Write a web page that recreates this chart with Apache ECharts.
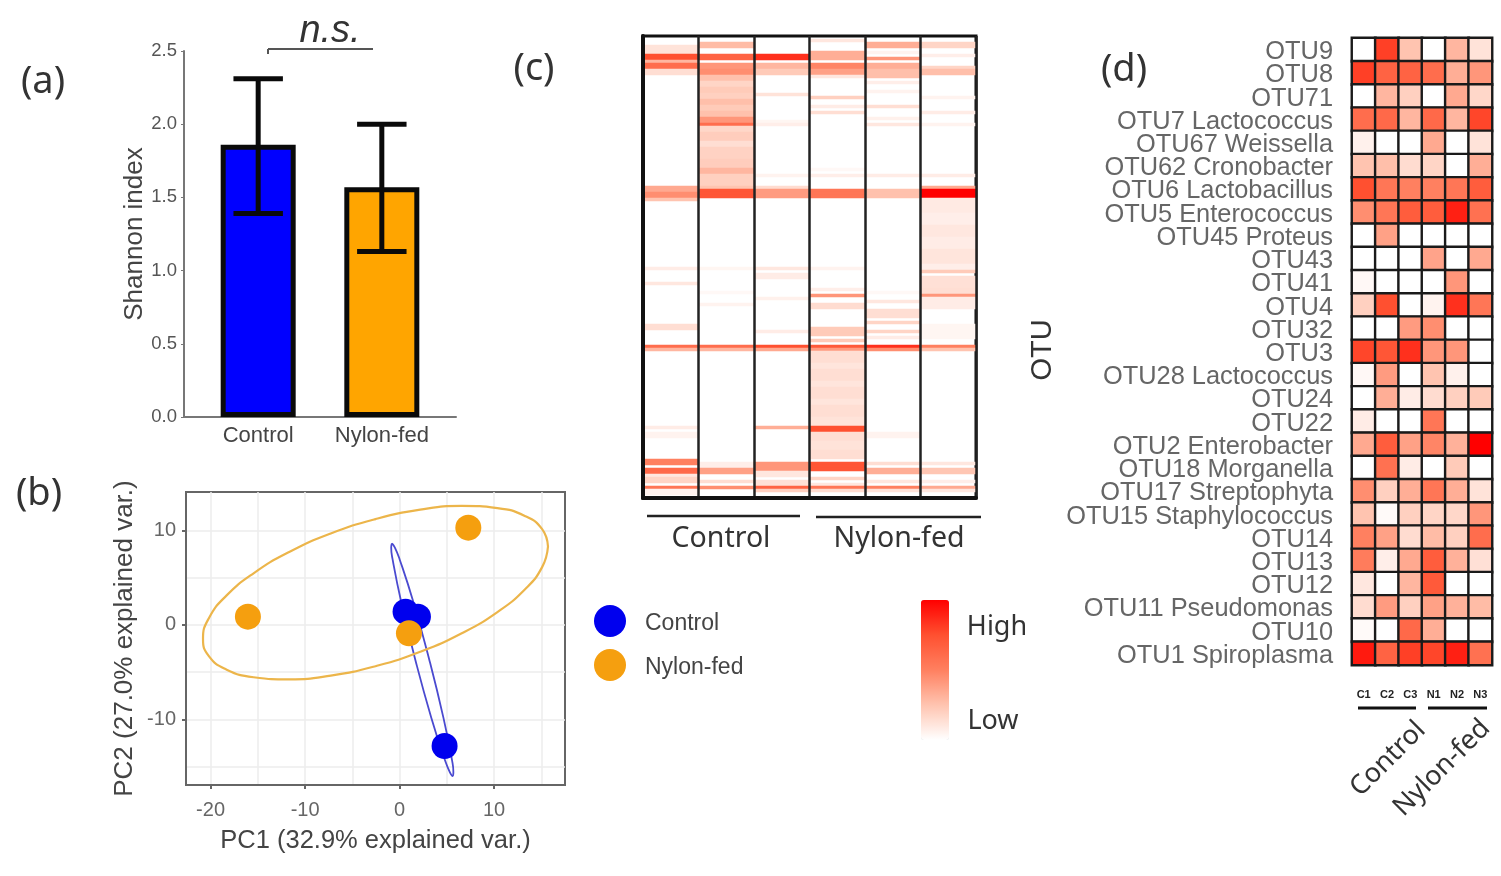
<!DOCTYPE html>
<html><head><meta charset="utf-8">
<style>html,body{margin:0;padding:0;background:#fff}#chart{width:1501px;height:876px;filter:blur(0.7px)}</style>
<script src="https://cdn.jsdelivr.net/npm/echarts@6/dist/echarts.min.js"></script>
</head><body><div id="chart"></div>
<script>
// ---- (a) Shannon index
const groups = ['Control', 'Nylon-fed'];
const shannonMean = [1.86, 1.57];
const shannonLow = [1.39, 1.13];
const shannonHigh = [2.31, 2.0];
const barColors = ['#0000ff', '#ffa500'];
// ---- (b) PCA
const pcaControl = [[0.63, 1.41], [1.94, 0.88], [4.76, -12.8]];
const pcaNylon = [[7.27, 10.3], [-16.05, 0.88], [0.99, -0.88]];
const ellipseNylon = [[15.7,8.3],[15.08,10.14],[13.25,11.54],[10.35,12.37],[6.58,12.6],[2.18,12.2],[-2.55,11.2],[-7.28,9.68],[-11.68,7.72],[-15.45,5.47],[-18.35,3.08],[-20.18,0.72],[-20.8,-1.46],[-20.18,-3.3],[-18.35,-4.7],[-15.45,-5.53],[-11.68,-5.76],[-7.28,-5.36],[-2.55,-4.36],[2.18,-2.84],[6.58,-0.88],[10.35,1.37],[13.25,3.76],[15.08,6.12],[15.7,8.3]];
const ellipseControl = [[-0.81,8.64],[-0.51,8.22],[-0.01,6.99],[1.44,2.49],[3.14,-3.67],[4.64,-9.83],[5.55,-14.33],[5.69,-15.56],[5.61,-15.98],[5.31,-15.56],[4.81,-14.33],[3.36,-9.83],[1.66,-3.67],[0.16,2.49],[-0.75,6.99],[-0.89,8.22],[-0.81,8.64]];
const pcaMajorX = [-20, -10, 0, 10];
const pcaMinorX = [-20, -15, -10, -5, 0, 5, 10, 15];
const pcaMajorY = [-10, 0, 10];
const pcaMinorY = [-15, -10, -5, 0, 5, 10];
// ---- (c) heatmap: per sample, runs of [firstRow, lastRow, relative abundance]
const samples = ['C1', 'C2', 'C3', 'N1', 'N2', 'N3'];
const stripeRowCount = 154;
const stripesC1 = [[3,5,.12],[6,7,.75],[8,8,.3],[9,10,.6],[11,12,.14],[50,51,.35],[52,53,.45],[54,54,.25],[77,77,.08],[82,82,.1],[96,97,.14],[103,103,.6],[104,104,.3],[130,130,.08],[132,133,.05],[141,142,.5],[144,145,.62],[146,146,.1],[147,148,.18],[150,150,.55],[151,152,.05]];
const stripesC2 = [[2,3,.28],[6,7,.65],[9,10,.42],[11,12,.45],[13,14,.26],[15,16,.18],[17,18,.22],[19,20,.2],[21,22,.27],[23,24,.22],[25,26,.26],[27,28,.42],[29,29,.6],[30,31,.17],[32,34,.21],[35,36,.14],[37,40,.19],[41,43,.21],[44,45,.3],[46,49,.2],[50,50,.25],[51,53,.72],[77,77,.04],[85,85,.03],[89,89,.05],[103,103,.6],[104,104,.3],[142,143,.07],[144,145,.38],[148,148,.14],[150,150,.45]];
const stripesC3 = [[6,7,.85],[9,10,.3],[11,12,.22],[19,19,.12],[28,28,.04],[29,29,.07],[46,46,.05],[50,50,.15],[51,53,.4],[77,77,.1],[79,79,.08],[80,80,.08],[87,87,.06],[98,98,.08],[103,103,.75],[104,104,.35],[130,130,.33],[142,144,.42],[145,146,.1],[148,149,.13],[150,150,.65],[151,151,.2]];
const stripesN1 = [[1,1,.1],[5,7,.33],[9,10,.48],[11,12,.38],[13,13,.1],[20,20,.2],[23,23,.08],[25,25,.14],[44,44,.03],[46,46,.07],[51,53,.55],[77,77,.05],[84,84,.07],[86,86,.42],[89,90,.15],[97,99,.22],[101,101,.22],[103,103,.7],[104,104,.4],[105,108,.14],[109,110,.11],[111,114,.14],[115,116,.11],[117,120,.14],[121,122,.11],[123,126,.14],[127,129,.12],[130,131,.75],[132,134,.14],[135,137,.12],[138,140,.14],[142,144,.72],[147,147,.18],[149,149,.1],[150,150,.55],[151,151,.15]];
const stripesN2 = [[2,3,.33],[5,5,.05],[7,7,.42],[9,10,.33],[11,13,.27],[15,15,.07],[18,18,.05],[23,23,.14],[27,27,.06],[29,29,.1],[46,46,.08],[51,53,.26],[85,85,.03],[88,88,.1],[91,93,.14],[95,95,.18],[98,98,.18],[100,100,.08],[103,103,.85],[104,104,.45],[132,133,.05],[142,142,.14],[144,145,.33],[148,148,.1],[150,150,.5],[151,151,.12]];
const stripesN3 = [[2,3,.18],[6,6,.07],[10,10,.18],[11,12,.27],[20,20,.05],[25,25,.08],[29,29,.05],[46,46,.08],[50,50,.35],[51,53,1],[54,58,.09],[59,62,.07],[63,66,.1],[67,70,.08],[71,75,.11],[76,77,.07],[78,78,.22],[80,83,.13],[84,85,.14],[86,86,.42],[87,90,.08],[96,100,.04],[103,103,.5],[104,104,.25],[142,142,.1],[144,145,.24],[148,148,.07],[150,150,.35],[151,151,.1]];
const stripeColumns = [stripesC1, stripesC2, stripesC3, stripesN1, stripesN2, stripesN3];
// ---- (d) OTU heatmap, one row per OTU in the order C1 C2 C3 N1 N2 N3
const otuNames = ['OTU9','OTU8','OTU71','OTU7 Lactococcus','OTU67 Weissella','OTU62 Cronobacter','OTU6 Lactobacillus','OTU5 Enterococcus','OTU45 Proteus','OTU43','OTU41','OTU4','OTU32','OTU3','OTU28 Lactococcus','OTU24','OTU22','OTU2 Enterobacter','OTU18 Morganella','OTU17 Streptophyta','OTU15 Staphylococcus','OTU14','OTU13','OTU12','OTU11 Pseudomonas','OTU10','OTU1 Spiroplasma'];
const otuValues = [
 [0,.8,.25,0,.3,.12],[.8,.65,.65,.6,.33,.42],[0,.3,.2,0,.35,.17],[.6,.62,.3,.62,.3,.78],
 [.06,0,0,.35,0,.12],[.25,.27,.15,.18,0,.33],[.75,.55,.5,.5,.55,.68],[.45,.55,.68,.68,.9,.58],
 [0,.38,0,0,0,0],[0,0,0,.37,0,.35],[.03,0,0,0,.42,0],[.2,.75,0,.05,.85,.55],[0,0,.4,.45,0,0],
 [.78,.72,.85,.42,.42,0],[.03,.4,0,.25,.06,0],[0,.33,.08,.15,.2,.22],[.08,0,0,.55,0,0],
 [.35,.68,.38,.48,.32,1],[0,.58,.08,0,.22,0],[.45,.2,.33,.55,.33,.12],[.25,.02,.2,.18,.17,.42],
 [.5,.38,.15,.28,.2,.6],[.52,.07,.35,.68,.32,.13],[.1,0,.3,.7,0,0],[.15,.4,.2,.38,.32,.28],
 [.02,0,.62,.33,0,0],[.92,.65,.8,.78,.9,.58]];

const rowLabels = [];
for (let r = 0; r < stripeRowCount; r++) rowLabels.push('r' + r);
const stripeData = [];
stripeColumns.forEach((runs, c) => runs.forEach(([a, b, v]) => { for (let r = a; r <= b; r++) stripeData.push([c, r, v]); }));
const otuData = [];
otuValues.forEach((row, r) => row.forEach((v, c) => otuData.push([c, r, v])));

const SANS = '"Liberation Sans", Arial, sans-serif';
const SOFT = '"Noto Sans", sans-serif';
const txt = (text, x, y, size, o = {}) => ({ type: 'text', x, y, rotation: o.rot || 0, z: 20,
  style: { text, fontSize: size, fontFamily: o.font || SANS, fontStyle: o.style || 'normal', fill: o.fill || '#333', align: 'center', verticalAlign: 'middle' } });
const seg = (x1, y1, x2, y2, w, c) => ({ type: 'line', z: 20, shape: { x1, y1, x2, y2 }, style: { stroke: c || '#222', lineWidth: w } });

const option = {
  animation: false,
  backgroundColor: '#fff',
  textStyle: { fontFamily: SANS },
  grid: [
    { left: 184, top: 51, width: 272, height: 366 },
    { left: 186, top: 492, width: 379, height: 293, show: true, borderColor: '#666', borderWidth: 2 },
    { left: 643, top: 36, width: 333, height: 462, show: true, borderColor: '#111', borderWidth: 3 },
    { left: 1352, top: 38, width: 140, height: 627 }
  ],
  xAxis: [
    { gridIndex: 0, type: 'value', min: -0.6, max: 1.6, splitLine: { show: false },
      axisLine: { onZero: false, lineStyle: { color: '#777', width: 2 } },
      axisTick: { show: false, customValues: [0, 1] },
      axisLabel: { customValues: [0, 1], formatter: v => groups[v], color: '#444', fontSize: 22, margin: 8 } },
    { gridIndex: 1, type: 'value', min: -22.6, max: 17.5, position: 'bottom',
      name: 'PC1 (32.9% explained var.)', nameLocation: 'middle', nameGap: 43, nameTextStyle: { fontSize: 25.5, color: '#444' },
      axisLine: { onZero: false, lineStyle: { color: '#666', width: 2 } },
      axisTick: { customValues: pcaMajorX, length: 4, lineStyle: { color: '#666', width: 2 } },
      axisLabel: { customValues: pcaMajorX, color: '#666', fontSize: 20, margin: 15 },
      splitLine: { show: false } },
    { gridIndex: 1, type: 'value', min: -22.6, max: 17.5, position: 'bottom',
      axisLine: { show: false }, axisLabel: { show: false },
      axisTick: { show: false, customValues: pcaMinorX },
      splitLine: { show: true, lineStyle: { color: '#ececec', width: 1.5 } } },
    { gridIndex: 2, type: 'category', data: samples, z: 6, position: 'bottom',
      axisLine: { show: true, lineStyle: { color: '#111', width: 4 } },
      axisTick: { alignWithLabel: true, length: 6, lineStyle: { color: '#999', width: 2 } },
      axisLabel: { show: false },
      splitLine: { show: true, lineStyle: { color: '#222', width: 2.5 } } },
    { gridIndex: 3, type: 'category', data: samples, z: 6,
      axisLine: { show: false },
      axisTick: { alignWithLabel: true, length: 10, lineStyle: { color: '#777', width: 2 } },
      axisLabel: { color: '#222', fontSize: 11, fontWeight: 'bold', margin: 24 } }
  ],
  yAxis: [
    { gridIndex: 0, type: 'value', min: 0, max: 2.5, interval: 0.5, splitLine: { show: false },
      name: 'Shannon index', nameLocation: 'middle', nameGap: 36, nameTextStyle: { fontSize: 26, color: '#444' },
      axisLine: { show: true, onZero: false, lineStyle: { color: '#777', width: 2 } },
      axisTick: { show: true, length: 3, lineStyle: { color: '#777' } },
      axisLabel: { color: '#555', fontSize: 18.5, margin: 7, formatter: v => v.toFixed(1) } },
    { gridIndex: 1, type: 'value', min: -16.93, max: 14.07,
      name: 'PC2 (27.0% explained var.)', nameLocation: 'middle', nameGap: 48, nameTextStyle: { fontSize: 26, color: '#444' },
      axisLine: { show: true, onZero: false, lineStyle: { color: '#666', width: 2 } },
      axisTick: { show: true, customValues: pcaMajorY, length: 4, lineStyle: { color: '#666', width: 2 } },
      axisLabel: { customValues: pcaMajorY, color: '#666', fontSize: 20, margin: 10 },
      splitLine: { show: false } },
    { gridIndex: 1, type: 'value', min: -16.93, max: 14.07,
      axisLine: { show: false }, axisLabel: { show: false },
      axisTick: { show: false, customValues: pcaMinorY },
      splitLine: { show: true, lineStyle: { color: '#ececec', width: 1.5 } } },
    { gridIndex: 2, type: 'category', data: rowLabels, inverse: true, z: 6,
      axisLine: { show: true, lineStyle: { color: '#111', width: 4 } }, axisTick: { show: false }, axisLabel: { show: false }, splitLine: { show: false } },
    { gridIndex: 3, type: 'category', data: otuNames, inverse: true,
      axisLine: { show: false },
      axisTick: { alignWithLabel: true, length: 10, lineStyle: { color: '#777', width: 2 } },
      axisLabel: { margin: 19, interval: 0, formatter: '{t|{value}}',
        rich: { t: { color: '#666', fontSize: 25.4, padding: [5, 0, 0, 0] } } } }
  ],
  visualMap: {
    type: 'continuous', seriesIndex: [6, 7], dimension: 2, min: 0, max: 1, calculable: false, show: true,
    left: 906, top: 585, itemWidth: 28, itemHeight: 140, text: ['', ''], showLabel: false,
    inRange: { color: ['#ffffff', '#ffc4b0', '#ff8060', '#ff5030', '#ff0000'] }
  },
  legend: {
    orient: 'vertical', left: 589, top: 600, itemWidth: 32, itemHeight: 32, itemGap: 12, icon: 'circle',
    data: [{ name: 'Control' }, { name: 'Nylon-fed' }],
    formatter: '{t|{name}}',
    textStyle: { padding: [0, 0, 0, 14], rich: { t: { fontSize: 23, color: '#444', padding: [6, 0, 0, 0] } } }
  },
  series: [
    { type: 'bar', name: 'Shannon mean', xAxisIndex: 0, yAxisIndex: 0, barWidth: 75, z: 2,
      data: shannonMean.map((v, i) => ({ value: [i, v], itemStyle: { color: barColors[i], borderColor: '#0a0a0a', borderWidth: 5 } })) },
    { type: 'custom', name: 'Shannon error', xAxisIndex: 0, yAxisIndex: 0, z: 3,
      encode: { x: 0, y: [1, 2] },
      data: shannonMean.map((_, i) => [i, shannonLow[i], shannonHigh[i]]),
      renderItem: (p, api) => {
        const a = api.coord([api.value(0), api.value(1)]), b = api.coord([api.value(0), api.value(2)]);
        const h = api.size([0.2, 0])[0];
        const style = { stroke: '#0a0a0a', lineWidth: 5, fill: 'none' };
        return { type: 'group', children: [
          { type: 'line', shape: { x1: a[0], y1: a[1], x2: b[0], y2: b[1] }, style },
          { type: 'line', shape: { x1: a[0] - h, y1: a[1], x2: a[0] + h, y2: a[1] }, style },
          { type: 'line', shape: { x1: b[0] - h, y1: b[1], x2: b[0] + h, y2: b[1] }, style }
        ] };
      } },
    { type: 'line', name: 'Control ellipse', xAxisIndex: 1, yAxisIndex: 1, data: ellipseControl, smooth: 0.5, showSymbol: false, symbol: 'none', z: 3,
      lineStyle: { color: '#4a4ad0', width: 1.8 } },
    { type: 'line', name: 'Nylon-fed ellipse', xAxisIndex: 1, yAxisIndex: 1, data: ellipseNylon, smooth: 0.5, showSymbol: false, symbol: 'none', z: 3,
      lineStyle: { color: '#ecb54a', width: 2.2 } },
    { type: 'scatter', name: 'Control', xAxisIndex: 1, yAxisIndex: 1, data: pcaControl, symbolSize: 26, z: 4, itemStyle: { color: '#0000ee', opacity: 1 } },
    { type: 'scatter', name: 'Nylon-fed', xAxisIndex: 1, yAxisIndex: 1, data: pcaNylon, symbolSize: 26, z: 5, itemStyle: { color: '#f59f0f', opacity: 1 } },
    { type: 'heatmap', name: 'Stripes', xAxisIndex: 3, yAxisIndex: 3, data: stripeData, z: 2, progressive: 0 },
    { type: 'heatmap', name: 'OTU', xAxisIndex: 4, yAxisIndex: 4, data: otuData, z: 2, progressive: 0,
      itemStyle: { borderColor: '#1a1a1a', borderWidth: 2.4 } }
  ],
  graphic: { elements: [
    txt('(a)', 43, 82, 38, { font: SOFT }),
    txt('(b)', 39, 494, 38, { font: SOFT }),
    txt('(c)', 534, 69, 38, { font: SOFT }),
    txt('(d)', 1124, 70, 38, { font: SOFT }),
    txt('n.s.', 330, 31, 38, { style: 'italic' }),
    seg(268, 49, 373, 49, 2, '#555'), seg(268, 49, 268, 54, 2, '#555'),
    seg(647, 516, 800, 516, 2.5), seg(816, 517, 981, 517, 2.5),
    txt('Control', 721, 539, 28.5, { font: SOFT }),
    txt('Nylon-fed', 899, 539, 28.5, { font: SOFT }),
    txt('High', 997, 627, 27, { font: SOFT }),
    txt('Low', 993, 721, 27, { font: SOFT }),
    txt('OTU', 1043, 350, 29, { rot: Math.PI / 2, font: SANS }),
    seg(1358, 708, 1416, 708, 3, '#111'), seg(1428, 708, 1487, 708, 3, '#111'),
    txt('Control', 1388, 759, 27, { rot: Math.PI / 4, font: SOFT }),
    txt('Nylon-fed', 1442, 768, 27, { rot: Math.PI / 4, font: SOFT })
  ] }
};
echarts.init(document.getElementById('chart')).setOption(option);
</script></body></html>
